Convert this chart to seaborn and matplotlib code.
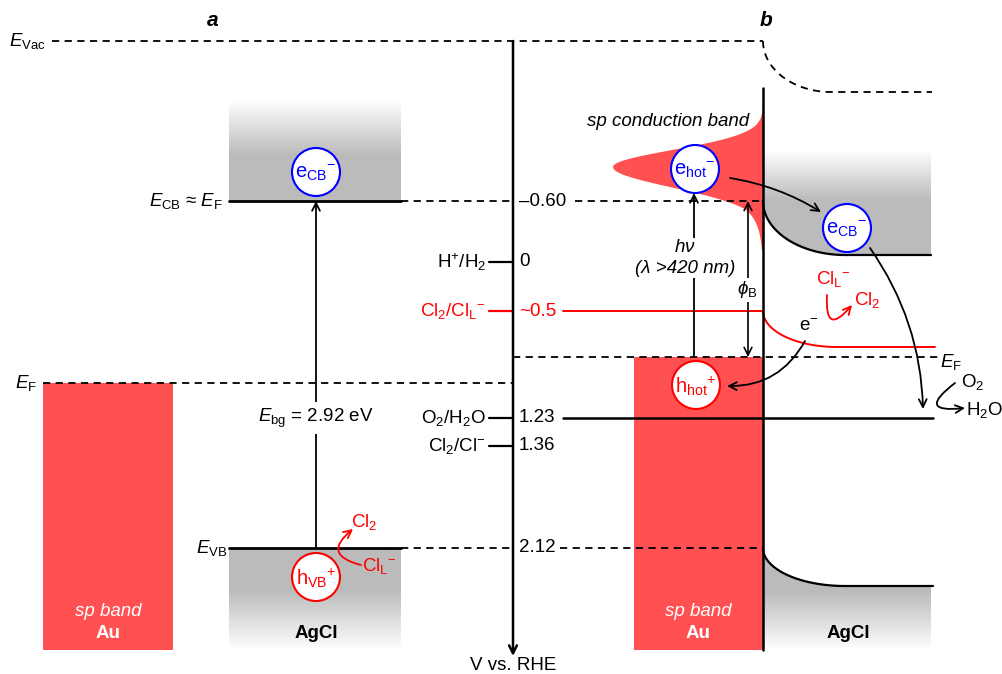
import numpy as np
import matplotlib
matplotlib.use('Agg')
import matplotlib.pyplot as plt
from matplotlib.patches import Rectangle, Circle, Polygon
import seaborn as sns

# redox / band potentials (V vs. RHE) and their place on the schematic (not to scale)
potentials = [-0.60, 0.0, 0.5, 1.23, 1.36, 2.12]
potential_text = ['\u20130.60', '0', '~0.5', '1.23', '1.36', '2.12']
couples = ['', 'H$^{+}$/H$_2$', 'Cl$_2$/Cl$_\\mathrm{L}{}^{-}$', 'O$_2$/H$_2$O', 'Cl$_2$/Cl$^{-}$', '']
couple_colors = ['black', 'black', 'red', 'black', 'black', 'black']
level_pos = [201, 262, 311, 418, 446, 548]
vac_pos = 41
ef_au_pos = 383      # Fermi level of Au in panel a
ef_junction_pos = 357  # equilibrated Fermi level in panel b
band_gap = 2.92

RED = '#ff5151'
GRAY = np.array([187, 187, 187]) / 255

sns.set_theme(style='white')
plt.rcParams['font.family'] = ['Liberation Sans', 'DejaVu Sans']
plt.rcParams['text.color'] = 'black'
plt.rcParams['mathtext.fontset'] = 'custom'
plt.rcParams['mathtext.rm'] = 'Liberation Sans'
plt.rcParams['mathtext.it'] = 'Liberation Sans:italic'
plt.rcParams['mathtext.bf'] = 'Liberation Sans:bold'
plt.rcParams['mathtext.default'] = 'regular'

fig = plt.figure(figsize=(10.03, 6.74), dpi=100)
ax = fig.add_axes([0, 0, 1, 1])
FS = 13.5

y_cb, y_h, y_cl, y_o2, y_cl2, y_vb = level_pos


def gradient(x0, x1, ys, vals, clip=None):
    yy = np.linspace(ys[0], ys[-1], 300)
    a = np.interp(yy, ys, vals)
    img = 1 - a[:, None, None] * (1 - GRAY[None, None, :])
    img = np.repeat(img, 2, axis=1)
    im = ax.imshow(img, extent=[x0, x1, ys[-1], ys[0]], origin='upper',
                   aspect='auto', zorder=1, interpolation='bilinear')
    if clip is not None:
        ax.add_patch(clip)
        im.set_clip_path(clip)


def bend(x0, y0, w, h, n=60):
    th = np.linspace(0, np.pi / 2, n)
    return x0 + w * (1 - np.cos(th)), y0 + h * np.sin(th)


def hline(y, x0, x1, color='black', dashed=False, lw=1.6, z=3):
    ls = (0, (4, 3)) if dashed else '-'
    ax.plot([x0, x1], [y, y], color=color, lw=1.3 if dashed else lw, ls=ls, zorder=z)


def arrow(start, end, rad=0.0, color='black', style='->', lw=1.3):
    ax.annotate('', xy=end, xytext=start,
                arrowprops=dict(arrowstyle=style, color=color, lw=lw, shrinkA=0, shrinkB=0,
                                mutation_scale=14, connectionstyle=f'arc3,rad={rad}'),
                zorder=6)


def carrier(x, y, label, color):
    ax.add_patch(Circle((x, y), 24, facecolor='white', edgecolor=color, lw=1.5, zorder=7))
    ax.text(x, y + 1, label, color=color, fontsize=14.5, ha='center', va='center', zorder=8)


# ---------------- panel a ----------------
ax.add_patch(Rectangle((43, ef_au_pos), 130, 650 - ef_au_pos, color=RED, zorder=2, lw=0))
ax.text(108, 611, 'sp band', color='white', fontsize=FS, style='italic', ha='center', va='center', zorder=5)
ax.text(108, 634, 'Au', color='white', fontsize=FS, weight='bold', ha='center', va='center', zorder=5)

gradient(229, 401, [100, 155, y_cb], [0, 1, 1])
gradient(229, 401, [y_vb, 590, 650], [1, 1, 0])
hline(y_cb, 229, 401, lw=2)
hline(y_vb, 229, 401, lw=2)
ax.text(316, 634, 'AgCl', fontsize=FS, weight='bold', ha='center', va='center', zorder=5)

hline(vac_pos, 52, 763, dashed=True)
hline(ef_au_pos, 43, 513, dashed=True)
hline(y_cb, 401, 513, dashed=True)
hline(y_cb, 575, 763, dashed=True)
hline(y_vb, 401, 513, dashed=True)
hline(y_vb, 560, 763, dashed=True)

ax.text(9, vac_pos, '$\\mathit{E}_\\mathrm{Vac}$', fontsize=FS, ha='left', va='center')
ax.text(223, y_cb, '$\\mathit{E}_\\mathrm{CB}$ \u2248 $\\mathit{E}_\\mathrm{F}$', fontsize=FS, ha='right', va='center')
ax.text(37, ef_au_pos, '$\\mathit{E}_\\mathrm{F}$', fontsize=FS, ha='right', va='center')
ax.text(227, y_vb, '$\\mathit{E}_\\mathrm{VB}$', fontsize=FS, ha='right', va='center')

arrow((316, y_vb), (316, y_cb))
ax.text(316, 418, f'$\\mathit{{E}}_\\mathrm{{bg}}$ = {band_gap:.2f} eV', fontsize=FS, ha='center', va='center',
        bbox=dict(facecolor='white', edgecolor='none', pad=3), zorder=6)
carrier(316, 172, 'e$_\\mathrm{CB}{}^{-}$', 'blue')
carrier(316, 577, 'h$_\\mathrm{VB}{}^{+}$', 'red')
arrow((361, 565), (353, 529), rad=-1.0, color='red')
ax.text(351, 522, 'Cl$_2$', color='red', fontsize=FS, ha='left', va='center')
ax.text(362, 566, 'Cl$_\\mathrm{L}{}^{-}$', color='red', fontsize=FS, ha='left', va='center')
ax.text(213, 20, 'a', fontsize=15, weight='bold', style='italic', ha='center', va='center')

# ---------------- potential axis ----------------
arrow((513, vac_pos), (513, 656), lw=1.8)
ax.text(513, 665, 'V vs. RHE', fontsize=FS, ha='center', va='center')
for pos, val, cpl, col in zip(level_pos, potential_text, couples, couple_colors):
    ax.text(519, pos, val, color=col, fontsize=FS, ha='left', va='center', zorder=5)
    if cpl:
        ax.text(486, pos, cpl, color=col, fontsize=FS, ha='right', va='center')
        hline(pos, 489, 513, color=col, lw=1.6)

# ---------------- panel b ----------------
ax.add_patch(Rectangle((634, ef_junction_pos), 129, 650 - ef_junction_pos, color=RED, zorder=2, lw=0))
ax.text(698, 611, 'sp band', color='white', fontsize=FS, style='italic', ha='center', va='center', zorder=5)
ax.text(698, 634, 'Au', color='white', fontsize=FS, weight='bold', ha='center', va='center', zorder=5)

# hot-electron distribution of the sp conduction band
yy = np.linspace(103, 250, 240)
d = yy - 167
gauss_up = 150 * np.exp(-(d / 24) ** 2)
gauss_dn = 150 * np.exp(-(d / 29) ** 2)
tail = 40 * np.exp(-(d - 30) / 15)
width = np.where(d < 0, gauss_up, np.where(d < 30, gauss_dn, np.maximum(gauss_dn, tail)))
pts = np.column_stack([763 - width, yy])
ax.add_patch(Polygon(np.vstack([pts, [[763, 250], [763, 103]]]), closed=True, color=RED, lw=0, zorder=2))
ax.text(749, 121, 'sp conduction band', fontsize=FS, style='italic', ha='right', va='center')

# AgCl bands with band bending
cbx, cby = bend(763, y_cb, 82, 54)
vbx, vby = bend(763, y_vb, 82, 38)
clx, cly = bend(763, y_cl, 74, 36)
vax, vay = bend(763, vac_pos, 68, 51)
cb_clip = Polygon(np.vstack([[[763, 150]], np.column_stack([cbx, cby]), [[931, cby[-1]], [931, 150]]]),
                  closed=True, facecolor='none', edgecolor='none')
gradient(763, 931, [150, 200, 260], [0, 1, 1], clip=cb_clip)
vb_clip = Polygon(np.vstack([np.column_stack([vbx, vby]), [[931, vby[-1]], [931, 650], [763, 650]]]),
                  closed=True, facecolor='none', edgecolor='none')
gradient(763, 931, [y_vb, 592, 650], [1, 1, 0], clip=vb_clip)

sns.lineplot(x=np.append(cbx, 931), y=np.append(cby, cby[-1]), ax=ax, color='black', lw=1.6,
             estimator=None, sort=False, zorder=4)
sns.lineplot(x=np.append(vbx, 933), y=np.append(vby, vby[-1]), ax=ax, color='black', lw=1.6,
             estimator=None, sort=False, zorder=4)
sns.lineplot(x=np.append(clx, 935), y=np.append(cly, cly[-1]), ax=ax, color='red', lw=1.4,
             estimator=None, sort=False, zorder=4)
sns.lineplot(x=np.append(vax, 932), y=np.append(vay, vay[-1]), ax=ax, color='black', lw=1.3,
             estimator=None, sort=False, zorder=4, linestyle=(0, (4, 3)))

hline(y_cl, 563, 763, color='red', lw=1.4)
hline(y_o2, 563, 933, lw=1.8, z=3)
hline(ef_junction_pos, 513, 940, dashed=True)
ax.plot([763, 763], [88, 650], color='black', lw=1.8, zorder=5)
ax.text(940, 362, '$\\mathit{E}_\\mathrm{F}$', fontsize=FS, ha='left', va='center')

carrier(695, 169, 'e$_\\mathrm{hot}{}^{-}$', 'blue')
carrier(696, 385, 'h$_\\mathrm{hot}{}^{+}$', 'red')
carrier(847, 228, 'e$_\\mathrm{CB}{}^{-}$', 'blue')

arrow((694, ef_junction_pos), (694, 193))
ax.text(685, 258, '$\\mathit{h\\nu}$\n(\u03bb >420 nm)', fontsize=FS, style='italic', ha='center', va='center',
        linespacing=1.3, bbox=dict(facecolor='white', edgecolor='none', pad=1), zorder=6)
arrow((748, y_cb), (748, ef_junction_pos), style='<->', lw=1.2)
ax.text(747, 290, '$\\mathit{\u03d5}_\\mathrm{B}$', fontsize=FS, ha='center', va='center',
        bbox=dict(facecolor='white', edgecolor='none', pad=1), zorder=7)

arrow((730, 178), (821, 212), rad=-0.1)
arrow((870, 248), (923, 409), rad=-0.15)
arrow((805, 341), (727, 386), rad=-0.3)
arrow((827, 295), (852, 305), rad=1.5, color='red')
arrow((955, 383), (965, 408), rad=1.8)

ax.text(809, 326, 'e$^{-}$', fontsize=FS, ha='center', va='center', zorder=8)
ax.text(816, 279, 'Cl$_\\mathrm{L}{}^{-}$', color='red', fontsize=FS, ha='left', va='center')
ax.text(854, 300, 'Cl$_2$', color='red', fontsize=FS, ha='left', va='center')
ax.text(961, 382, 'O$_2$', fontsize=FS, ha='left', va='center')
ax.text(966, 410, 'H$_2$O', fontsize=FS, ha='left', va='center')
ax.text(848, 634, 'AgCl', fontsize=FS, weight='bold', ha='center', va='center', zorder=5)
ax.text(766, 20, 'b', fontsize=15, weight='bold', style='italic', ha='center', va='center')

ax.set_xlim(0, 1003)
ax.set_ylim(674, 0)
ax.axis('off')
fig.savefig('out.png', dpi=100)
